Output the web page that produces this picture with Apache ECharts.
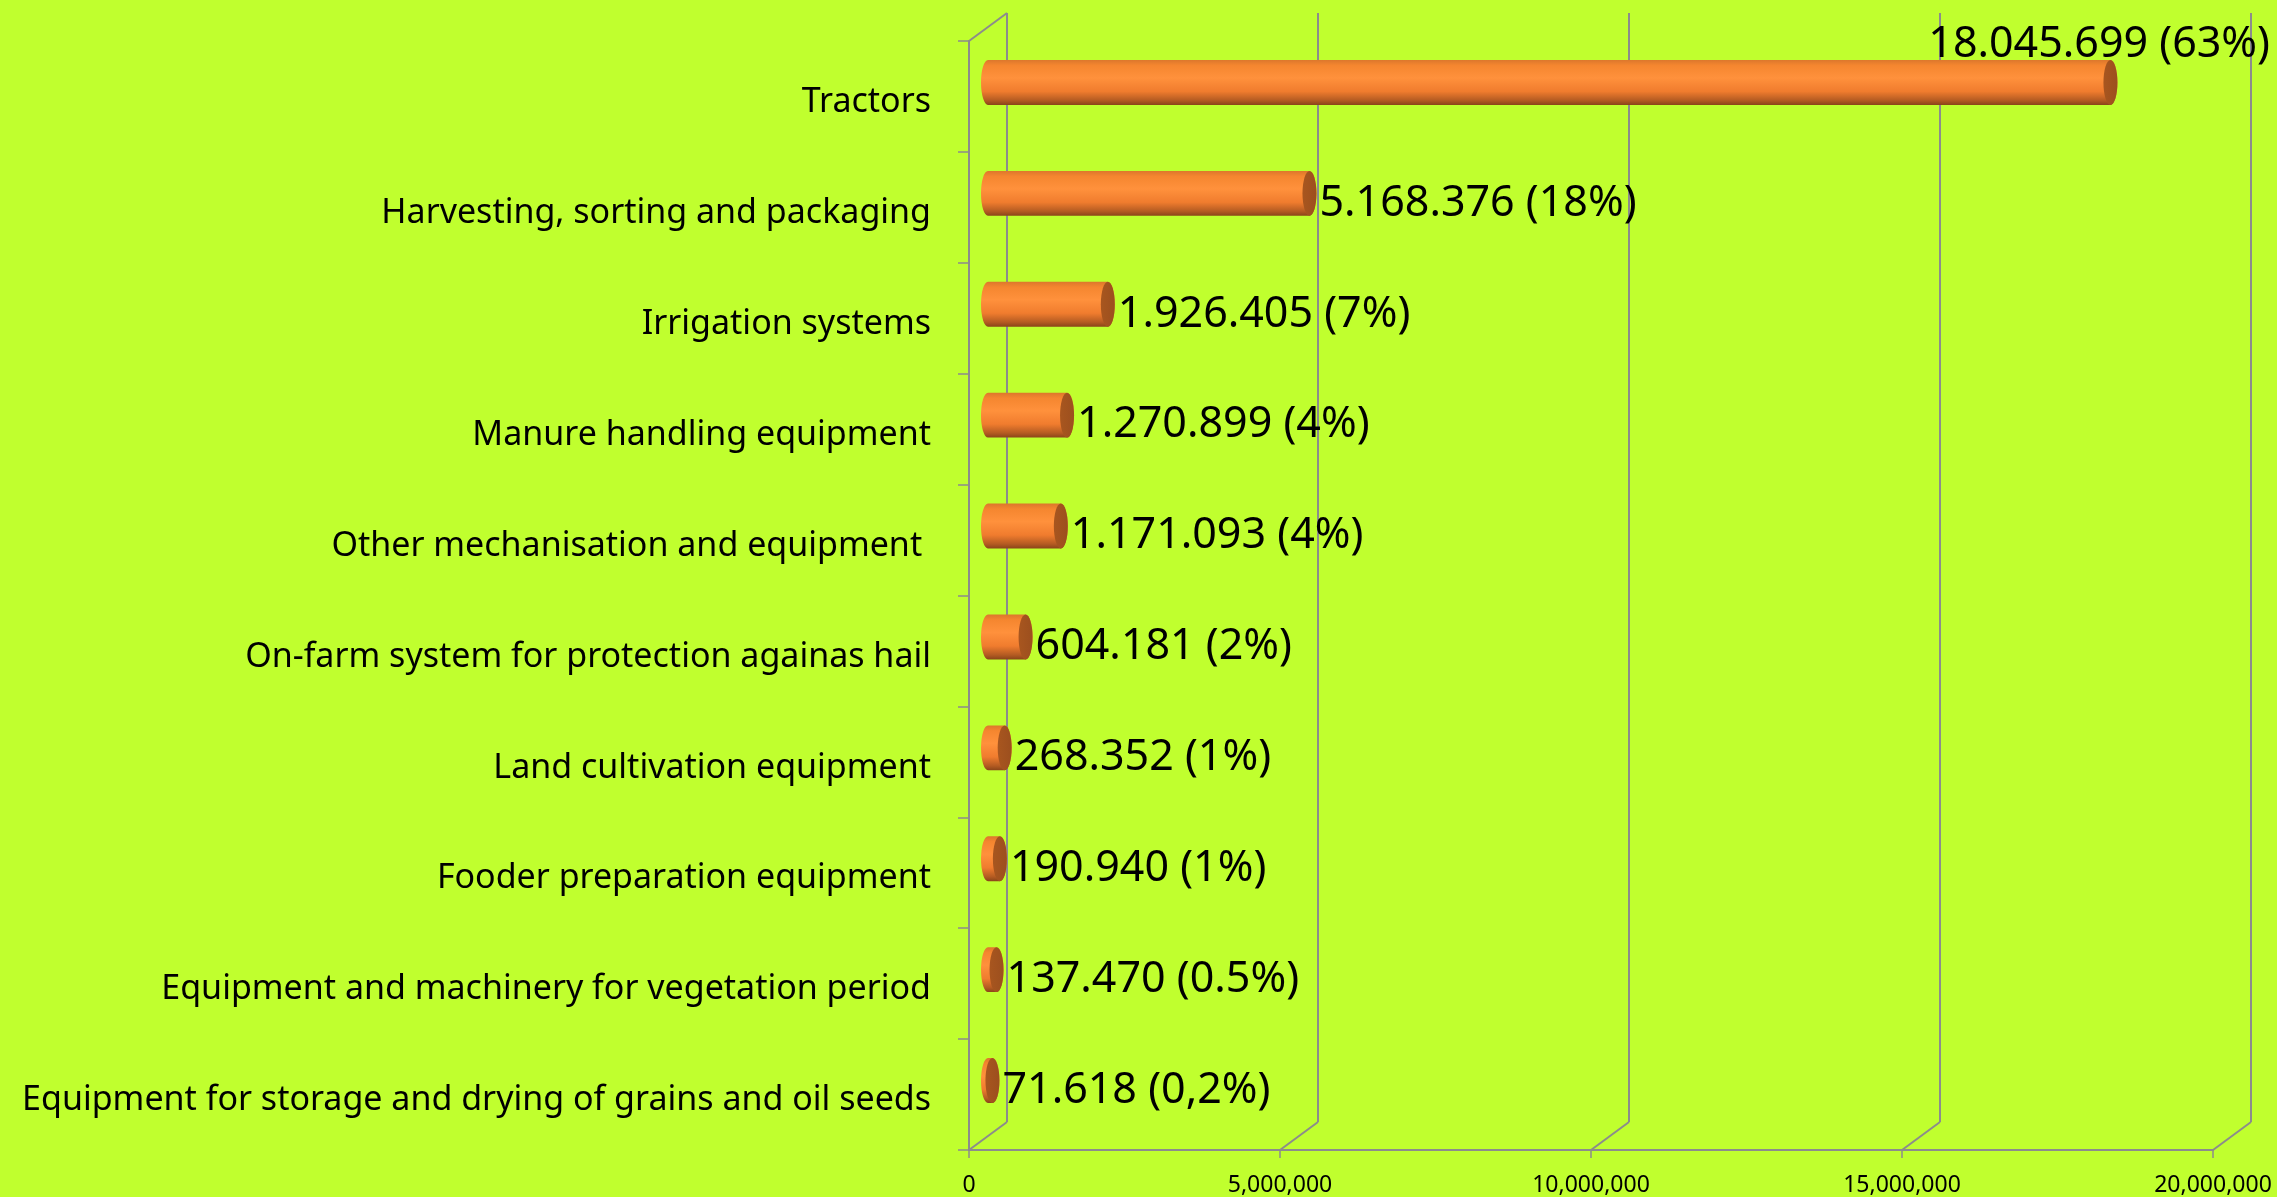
<!DOCTYPE html>
<html>
<head>
<meta charset="utf-8">
<script src="https://cdn.jsdelivr.net/npm/echarts@6/dist/echarts.min.js"></script>
<style>
  html, body { margin: 0; padding: 0; background: #c0ff2e; }
  #main { width: 2277px; height: 1197px; }
</style>
</head>
<body>
<div id="main"></div>
<script>
// categories top -> bottom
var categories = [
  'Tractors',
  'Harvesting, sorting and packaging',
  'Irrigation systems',
  'Manure handling equipment',
  'Other mechanisation and equipment ',
  'On-farm system for protection againas hail',
  'Land cultivation equipment',
  'Fooder preparation equipment',
  'Equipment and machinery for vegetation period',
  'Equipment for storage and drying of grains and oil seeds'
];
var values = [18045699, 5168376, 1926405, 1270899, 1171093, 604181, 268352, 190940, 137470, 71618];
var shares = ['63%', '18%', '7%', '4%', '4%', '2%', '1%', '1%', '0.5%', '0,2%'];
var xTicks = [0, 5000000, 10000000, 15000000, 20000000];

var DX = 38, DY = -28; // depth of the 3d box
var gridColor = '#8c8c8c';
var font = 'Noto Sans';

function dots(v) {
  return String(v).replace(/\B(?=(\d{3})+(?!\d))/g, '.');
}
function commas(v) {
  return String(v).replace(/\B(?=(\d{3})+(?!\d))/g, ',');
}

var measureCtx = document.createElement('canvas').getContext('2d');
function textW(s, size) {
  measureCtx.font = size + 'px "' + font + '"';
  return measureCtx.measureText(s).width;
}

var chart = echarts.init(document.getElementById('main'));

function renderBar(params, api) {
  var idx = api.value(0);
  var val = api.value(1);
  var p0 = api.coord([0, idx]);
  var p1 = api.coord([val, idx]);
  var h = api.size([0, 1])[1] * 0.405;
  var rx = 7, ry = h / 2;
  var cy = p0[1] + DY / 2;
  var x0 = p0[0] + DX / 2, x1 = p1[0] + DX / 2;
  var top = cy - ry, bot = cy + ry;
  var path = 'M' + x0 + ' ' + top + ' L' + x1 + ' ' + top +
    ' A' + rx + ' ' + ry + ' 0 0 1 ' + x1 + ' ' + bot +
    ' L' + x0 + ' ' + bot +
    ' A' + rx + ' ' + ry + ' 0 0 1 ' + x0 + ' ' + top + ' Z';
  var label = dots(values[idx]) + ' (' + shares[idx] + ')';
  var fs = 43;
  var lx = x1 + rx + 3, ly = cy + 10, align = 'left';
  if (lx + textW(label, fs) > api.getWidth()) {
    // no room on the right: put it above the bar, flush right
    lx = api.getWidth() - 7;
    ly = cy - 38;
    align = 'right';
  }
  return {
    type: 'group',
    children: [
      {
        type: 'path',
        shape: { pathData: path },
        style: {
          fill: new echarts.graphic.LinearGradient(0, 0, 0, 1, [
            { offset: 0, color: '#dc772c' },
            { offset: 0.12, color: '#f5862f' },
            { offset: 0.4, color: '#ff913c' },
            { offset: 0.7, color: '#f07c2e' },
            { offset: 0.9, color: '#b45b22' },
            { offset: 1, color: '#8a4519' }
          ])
        }
      },
      {
        type: 'ellipse',
        shape: { cx: x1, cy: cy, rx: rx, ry: ry },
        style: {
          fill: new echarts.graphic.LinearGradient(0, 0, 1, 0, [
            { offset: 0, color: '#a8561f' },
            { offset: 1, color: '#9c4f1e' }
          ])
        }
      },
      {
        type: 'text',
        x: lx, y: ly,
        style: {
          text: label,
          fill: '#000',
          font: fs + 'px "' + font + '"',
          align: align,
          verticalAlign: 'middle'
        }
      }
    ]
  };
}

function renderFloor(params, api) {
  var v = api.value(0);
  var cs = params.coordSys;
  var x = api.coord([v, 0])[0];
  var bottom = cs.y + cs.height;
  var kids = [{
    type: 'line',
    shape: { x1: x, y1: bottom, x2: x + DX, y2: bottom + DY },
    style: { stroke: gridColor, lineWidth: 2 }
  }];
  if (v === 0) {
    kids.push({
      type: 'line',
      shape: { x1: x, y1: cs.y, x2: x + DX, y2: cs.y + DY },
      style: { stroke: gridColor, lineWidth: 2 }
    });
  }
  return { type: 'group', children: kids };
}

var option = {
  backgroundColor: '#c0ff2e',
  animation: false,
  grid: [
    { left: 969, right: 64, top: 41, bottom: 47 },
    { left: 1007, right: 26, top: 13, bottom: 75 }
  ],
  xAxis: [
    {
      type: 'value', gridIndex: 0, min: 0, max: 20000000, interval: 5000000,
      axisLine: { show: true, lineStyle: { color: gridColor, width: 2 } },
      axisTick: { show: true, length: 8, lineStyle: { color: gridColor, width: 1.5 } },
      splitLine: { show: false },
      axisLabel: {
        color: '#000', fontSize: 23, fontFamily: font, margin: 24,
        formatter: function (v) { return commas(v); }
      }
    },
    {
      type: 'value', gridIndex: 1, min: 0, max: 20000000, interval: 5000000,
      axisLine: { show: false }, axisTick: { show: false }, axisLabel: { show: false },
      splitLine: { show: true, lineStyle: { color: gridColor, width: 2 } }
    }
  ],
  yAxis: [
    {
      type: 'category', gridIndex: 0, data: categories, inverse: true,
      axisLine: { show: true, lineStyle: { color: gridColor, width: 2 } },
      axisTick: { show: true, length: 11, lineStyle: { color: gridColor, width: 1.5 } },
      axisLabel: {
        margin: 38,
        formatter: '{c|{value}}',
        rich: {
          c: { color: '#000', fontSize: 34, fontFamily: font, padding: [12, 0, 0, 0] }
        }
      }
    },
    {
      type: 'category', gridIndex: 1, data: categories, inverse: true, show: false
    }
  ],
  series: [
    {
      type: 'custom', xAxisIndex: 0, yAxisIndex: 0, silent: true,
      renderItem: renderFloor,
      data: xTicks.map(function (v) { return [v]; }),
      encode: { x: 0 }
    },
    {
      type: 'custom', xAxisIndex: 0, yAxisIndex: 0,
      renderItem: renderBar,
      data: values.map(function (v, i) { return [i, v]; }),
      encode: { y: 0, x: 1 }
    }
  ]
};
chart.setOption(option);
</script>
</body>
</html>
